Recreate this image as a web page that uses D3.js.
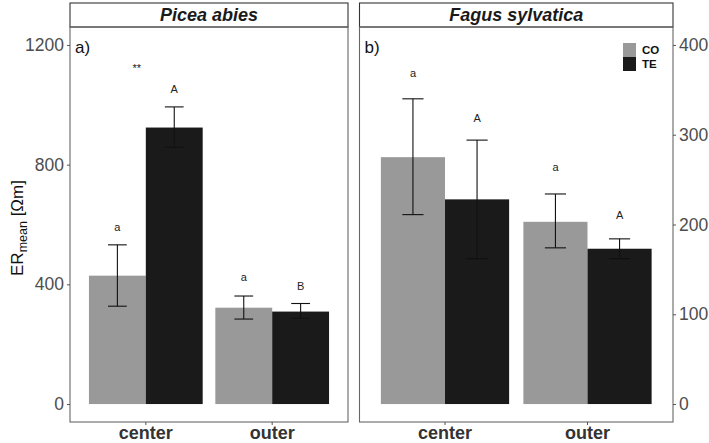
<!DOCTYPE html>
<html><head><meta charset="utf-8">
<script src="https://cdn.jsdelivr.net/npm/d3@7/dist/d3.min.js"></script>
<style>body{margin:0;background:#fff}svg{display:block}text{font-family:"Liberation Sans",Arial,sans-serif}</style>
</head><body><svg id="c" width="709" height="443"></svg>
<script>
// ---- data ----
const positions = ["center", "outer"];
const treatments = ["CO", "TE"];
const species = ["Picea abies", "Fagus sylvatica"];
const panelTags = ["a)", "b)"];

const piceaCO = [429, 322];
const piceaCOlo = [327, 284];
const piceaCOhi = [532, 361];
const piceaTE = [924, 309];
const piceaTElo = [858, 286];
const piceaTEhi = [993, 336];
const piceaCOlab = ["a", "a"];
const piceaTElab = ["A", "B"];
const piceaCOlabY = [591, 423];
const piceaTElabY = [1053, 394];
const piceaStar = ["**", ""];
const piceaStarY = [1121, 0];

const fagusCO = [275, 203];
const fagusCOlo = [211, 174];
const fagusCOhi = [340, 234];
const fagusTE = [228, 173];
const fagusTElo = [162, 162];
const fagusTEhi = [294, 184];
const fagusCOlab = ["a", "a"];
const fagusTElab = ["A", "A"];
const fagusCOlabY = [369, 264];
const fagusTElabY = [319, 210];

const piceaTicks = [0, 400, 800, 1200];
const fagusTicks = [0, 100, 200, 300, 400];
const piceaLimits = [0, 1200];
const fagusLimits = [0, 400];

const colors = {CO: "#999999", TE: "#1a1a1a"};

// ---- build ----
function rows(mean, lo, hi, lab, labY) {
  return positions.map((p, i) => ({pos: p, mean: mean[i], lo: lo[i], hi: hi[i], lab: lab[i], labY: labY[i]}));
}
const panels = [
  {name: species[0], tag: panelTags[0], x0: 70, x1: 348, limits: piceaLimits, ticks: piceaTicks, axis: "left",
   CO: rows(piceaCO, piceaCOlo, piceaCOhi, piceaCOlab, piceaCOlabY),
   TE: rows(piceaTE, piceaTElo, piceaTEhi, piceaTElab, piceaTElabY), star: true},
  {name: species[1], tag: panelTags[1], x0: 359.5, x1: 673, limits: fagusLimits, ticks: fagusTicks, axis: "right",
   CO: rows(fagusCO, fagusCOlo, fagusCOhi, fagusCOlab, fagusCOlabY),
   TE: rows(fagusTE, fagusTElo, fagusTEhi, fagusTElab, fagusTElabY), star: false, legend: true}
];

const svg = d3.select("#c");
const stripTop = 3, panelTop = 27, panelBot = 422;

panels.forEach(P => {
  const span = P.limits[1] - P.limits[0];
  const y = d3.scaleLinear().domain([P.limits[0] - 0.05 * span, P.limits[1] + 0.05 * span]).range([panelBot, panelTop]);
  const x = d3.scaleBand().domain(positions).range([P.x0, P.x1]).paddingInner(0.1).paddingOuter(0.15);
  const xs = d3.scaleBand().domain(treatments).range([0, x.bandwidth()]);
  const g = svg.append("g");

  // strip
  g.append("rect").attr("x", P.x0).attr("y", stripTop).attr("width", P.x1 - P.x0).attr("height", panelTop - stripTop)
    .attr("fill", "#fff").attr("stroke", "#333").attr("stroke-width", 1.1);
  g.append("text").attr("x", (P.x0 + P.x1) / 2).attr("y", panelTop - 6).attr("text-anchor", "middle")
    .attr("font-size", 18).attr("font-weight", "bold").attr("font-style", "italic").attr("fill", "#1a1a1a").text(P.name);

  // bars
  treatments.forEach(t => {
    const d = P[t];
    g.selectAll(null).data(d).enter().append("rect")
      .attr("x", r => x(r.pos) + xs(t)).attr("width", xs.bandwidth())
      .attr("y", r => y(r.mean)).attr("height", r => y(0) - y(r.mean))
      .attr("fill", colors[t]);
  });
  // error bars
  treatments.forEach(t => {
    const d = P[t];
    const cw = xs.bandwidth() * 0.33;
    const eg = g.selectAll(null).data(d).enter().append("g").attr("stroke", "#111").attr("stroke-width", 1.1);
    const cx = r => x(r.pos) + xs(t) + xs.bandwidth() / 2;
    eg.append("line").attr("x1", cx).attr("x2", cx).attr("y1", r => y(r.lo)).attr("y2", r => y(r.hi));
    eg.append("line").attr("x1", r => cx(r) - cw / 2).attr("x2", r => cx(r) + cw / 2).attr("y1", r => y(r.lo)).attr("y2", r => y(r.lo));
    eg.append("line").attr("x1", r => cx(r) - cw / 2).attr("x2", r => cx(r) + cw / 2).attr("y1", r => y(r.hi)).attr("y2", r => y(r.hi));
    g.selectAll(null).data(d).enter().append("text")
      .attr("x", cx).attr("y", r => y(r.labY)).attr("dy", "0.35em").attr("text-anchor", "middle")
      .attr("font-size", 11).attr("fill", "#222").text(r => r.lab);
  });
  if (P.star) {
    g.selectAll(null).data(positions.map((p, i) => ({pos: p, s: piceaStar[i], v: piceaStarY[i]})).filter(d => d.s)).enter()
      .append("text").attr("x", d => x(d.pos) + x.bandwidth() / 2 - 9).attr("y", d => y(d.v)).attr("dy", "0.35em")
      .attr("text-anchor", "middle").attr("font-size", 11).attr("fill", "#222").text(d => d.s);
  }

  // panel border
  g.append("rect").attr("x", P.x0).attr("y", panelTop).attr("width", P.x1 - P.x0).attr("height", panelBot - panelTop)
    .attr("fill", "none").attr("stroke", "#666").attr("stroke-width", 1.1);
  g.append("text").attr("x", P.x0 + 5).attr("y", panelTop + 26).attr("font-size", 17).attr("fill", "#111").text(P.tag);

  // y axis
  const ax = P.axis === "left" ? d3.axisLeft(y) : d3.axisRight(y);
  ax.tickValues(P.ticks).tickSize(3).tickPadding(3).tickFormat(d3.format("d"));
  const ag = g.append("g").attr("transform", `translate(${P.axis === "left" ? P.x0 : P.x1},0)`).call(ax);
  ag.select(".domain").remove();
  ag.selectAll(".tick line").attr("stroke", "#555");
  ag.selectAll(".tick text").attr("font-size", 17.5).attr("fill", "#4d4d4d").attr("font-family", "Liberation Sans, Arial, sans-serif");

  // x axis
  const bx = d3.axisBottom(x).tickSize(3).tickPadding(3);
  const bg = g.append("g").attr("transform", `translate(0,${panelBot})`).call(bx);
  bg.select(".domain").remove();
  bg.selectAll(".tick line").attr("stroke", "#555");
  bg.selectAll(".tick text").attr("font-size", 18).attr("font-weight", "bold").attr("fill", "#333")
    .attr("font-family", "Liberation Sans, Arial, sans-serif").attr("y", 16.5).attr("dy", 0);

  // legend
  if (P.legend) {
    const lg = g.append("g").attr("transform", `translate(623,43)`);
    treatments.forEach((t, i) => {
      lg.append("rect").attr("x", 0).attr("y", i * 14).attr("width", 13).attr("height", 14).attr("fill", colors[t]);
      lg.append("text").attr("x", 19).attr("y", i * 14 + 7).attr("dy", "0.35em").attr("font-size", 11.5)
        .attr("font-weight", "bold").attr("fill", "#111").text(t);
    });
  }
});

// y label
const yl = svg.append("text").attr("transform", "translate(23,228) rotate(-90)").attr("text-anchor", "middle")
  .attr("font-size", 17).attr("fill", "#111");
yl.append("tspan").text("ER");
yl.append("tspan").attr("font-size", 12.5).attr("dy", 4).text("mean");
yl.append("tspan").attr("dy", -4).text(" [Ωm]");
</script></body></html>
